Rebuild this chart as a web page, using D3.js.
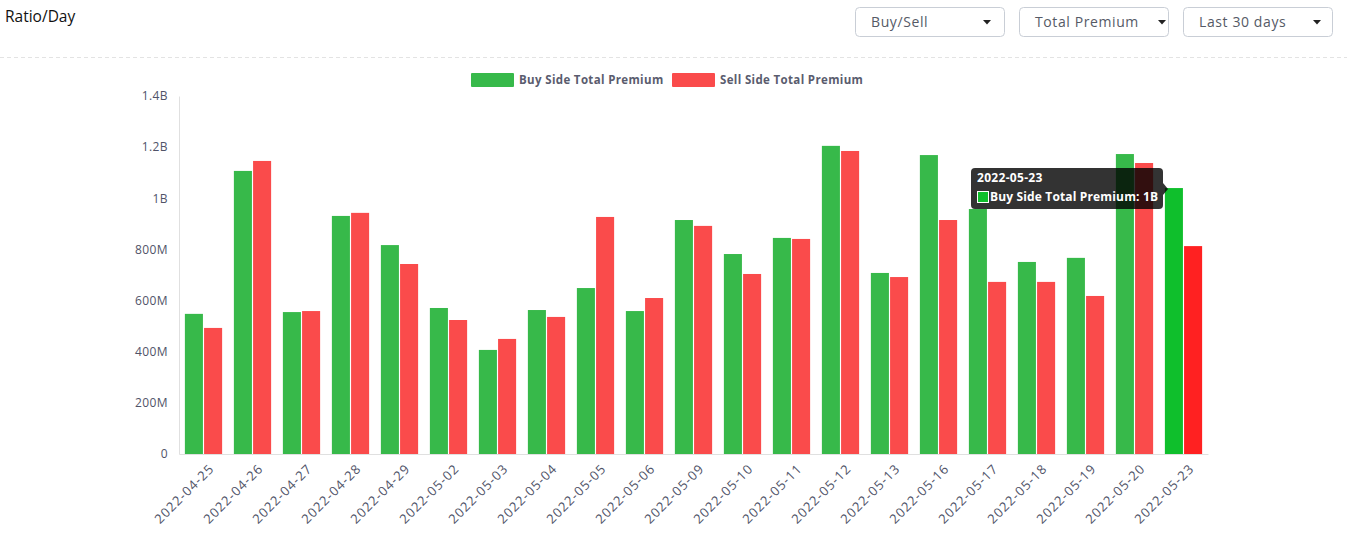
<!DOCTYPE html>
<html><head><meta charset="utf-8">
<script src="https://cdn.jsdelivr.net/npm/d3@7"></script>
<style>
body{margin:0;background:#fff;font-family:"Open Sans",sans-serif;}
</style></head><body>
<svg id="c" width="1347" height="539"></svg>
<script>
const categories=["2022-04-25","2022-04-26","2022-04-27","2022-04-28","2022-04-29","2022-05-02","2022-05-03","2022-05-04","2022-05-05","2022-05-06","2022-05-09","2022-05-10","2022-05-11","2022-05-12","2022-05-13","2022-05-16","2022-05-17","2022-05-18","2022-05-19","2022-05-20","2022-05-23"];
const buyValues=[548e6,1107e6,555e6,931e6,817e6,571e6,407e6,563e6,649e6,559e6,915e6,782e6,845e6,1205e6,708e6,1169e6,958e6,751e6,767e6,1173e6,1040e6];
const sellValues=[493e6,1146e6,559e6,943e6,743e6,524e6,450e6,536e6,927e6,610e6,892e6,704e6,841e6,1185e6,692e6,915e6,673e6,673e6,618e6,1138e6,813e6];
const seriesNames=["Buy Side Total Premium","Sell Side Total Premium"];
const yTicks=[0,200e6,400e6,600e6,800e6,1000e6,1200e6,1400e6];
const yTickLabels=["0","200M","400M","600M","800M","1B","1.2B","1.4B"];
const dropdowns=["Buy/Sell","Total Premium","Last 30 days"];
const hoverIndex=20;

const svg=d3.select("#c");
const font="'Open Sans', sans-serif";
// header
svg.append("text").attr("x",5).attr("y",22).attr("font-size",15.5).attr("fill","#111").attr("font-family",font).text("Ratio/Day");
svg.append("line").attr("x1",0).attr("x2",1347).attr("y1",57.5).attr("y2",57.5).attr("stroke","#e3e3e3").attr("stroke-dasharray","4,3");
const ddX=[855,1019,1183];
const ddCaret=[987,1162,1317];
dropdowns.forEach((t,i)=>{
  const g=svg.append("g").attr("transform",`translate(${ddX[i]},7)`);
  g.append("rect").attr("x",0.5).attr("y",0.5).attr("width",149).attr("height",29).attr("rx",4).attr("fill","#fff").attr("stroke","#c9ced6");
  g.append("text").attr("x",16).attr("y",20).attr("font-size",14).attr("fill","#555a66").attr("font-family",font).attr("letter-spacing",0.6).text(t);
  const cx=ddCaret[i]-ddX[i];
  g.append("path").attr("d",`M${cx-4},13 L${cx+4},13 L${cx},17.5 Z`).attr("fill","#222");
});

const x0=d3.scaleBand().domain(categories).range([179,1208]).paddingInner(0.24).paddingOuter(0.12);
const x1=d3.scaleBand().domain(seriesNames).range([0,x0.bandwidth()]).paddingInner(0.06);
const y=d3.scaleLinear().domain([0,1.4e9]).range([454,96]);

// axes
const yAxis=svg.append("g").attr("transform","translate(179,0)").call(d3.axisLeft(y).tickValues(yTicks).tickFormat((d,i)=>yTickLabels[i]).tickSize(0).tickPadding(11));
yAxis.select(".domain").attr("stroke","#e0e0e0");
yAxis.selectAll("text").attr("font-size",12).attr("letter-spacing",0.4).attr("fill","#505368").attr("font-family",font);

const colors={normal:["#37b94a","#fa4b4b"],hover:["#0fbf2c","#ff2121"]};
const groups=svg.append("g").selectAll("g").data(categories).join("g").attr("transform",d=>`translate(${x0(d)},0)`);
groups.each(function(cat,i){
  const g=d3.select(this);
  const vals=[buyValues[i],sellValues[i]];
  vals.forEach((v,j)=>{
    g.append("rect").attr("x",x1(seriesNames[j])).attr("width",x1.bandwidth()).attr("y",y(v)).attr("height",y(0)-y(v))
     .attr("fill",i===hoverIndex?colors.hover[j]:colors.normal[j]);
  });
});

const xAxis=svg.append("g").attr("transform","translate(0,454)").call(d3.axisBottom(x0).tickSize(0).tickPadding(6));
xAxis.select(".domain").attr("stroke","#e0e0e0");
xAxis.selectAll("text").attr("font-size",13).attr("letter-spacing",1).attr("fill","#505368").attr("font-family",font)
  .attr("text-anchor","end").attr("dy","0.35em").attr("dx","0").attr("transform","translate(4,8) rotate(-45)");

// legend
const leg=[{x:471,tx:519},{x:672,tx:720}];
seriesNames.forEach((n,j)=>{
  svg.append("rect").attr("x",leg[j].x).attr("y",73).attr("width",43).attr("height",14).attr("rx",1).attr("fill",colors.normal[j]);
  svg.append("text").attr("x",leg[j].tx).attr("y",84).attr("font-size",11.5).attr("letter-spacing",0.35).attr("font-weight","bold").attr("fill","#5a5c6e").attr("font-family",font).text(n);
});

// tooltip
const tx=971, ty=168, tw=192, th=41;
const tip=svg.append("g");
tip.append("rect").attr("x",tx).attr("y",ty).attr("width",tw).attr("height",th).attr("rx",4).attr("fill","rgba(0,0,0,0.8)");
tip.append("path").attr("d",`M${tx+tw},${ty+15} L${tx+tw+5},${ty+21} L${tx+tw},${ty+27} Z`).attr("fill","rgba(0,0,0,0.8)");
tip.append("text").attr("x",tx+6).attr("y",ty+14).attr("font-size",12).attr("letter-spacing",0.3).attr("font-weight","bold").attr("fill","#fff").attr("font-family",font).text(categories[hoverIndex]);
tip.append("rect").attr("x",tx+6.5).attr("y",ty+23.5).attr("width",11).attr("height",11).attr("fill","#0fbf2c").attr("stroke","#fff").attr("stroke-width",1);
tip.append("text").attr("x",tx+19).attr("y",ty+33).attr("font-size",12).attr("letter-spacing",0.15).attr("font-weight","bold").attr("fill","#fff").attr("font-family",font)
  .text(seriesNames[0]+": "+d3.format(".2~s")(buyValues[hoverIndex]).replace("G","B"));
</script></body></html>
